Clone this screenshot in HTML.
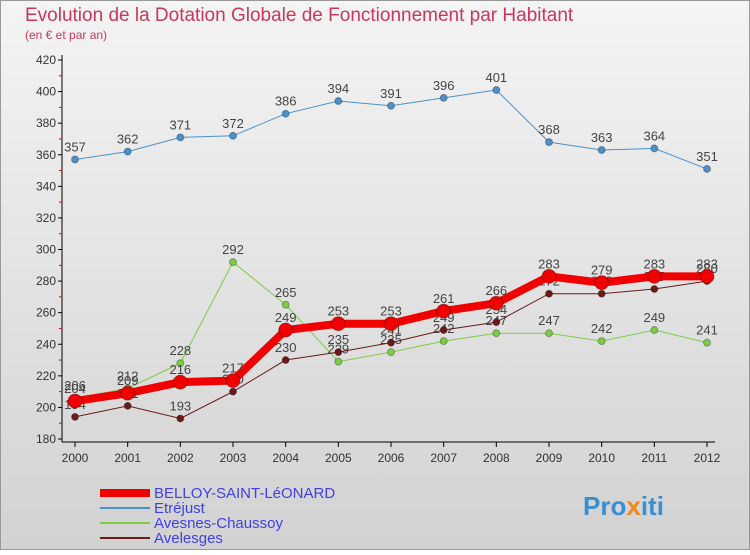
<!DOCTYPE html>
<html><head><meta charset="utf-8"><style>
body{margin:0;width:750px;height:550px;overflow:hidden;font-family:"Liberation Sans",sans-serif;}
</style></head><body>
<svg width="750" height="550" xmlns="http://www.w3.org/2000/svg">
<defs><linearGradient id="bg" x1="0" y1="0" x2="0" y2="1"><stop offset="0" stop-color="#f4f4f4"/><stop offset="1" stop-color="#d2d2d2"/></linearGradient></defs>
<rect x="0.5" y="0.5" width="749" height="549" fill="url(#bg)" stroke="#999"/>
<text x="25" y="21" font-size="19" fill="#c8385a">Evolution de la Dotation Globale de Fonctionnement par Habitant</text>
<text x="25" y="39" font-size="12" fill="#c8385a">(en € et par an)</text>
<g id="axes"></g>
<g id="series"></g>
<g id="legend"></g>
<text x="583" y="515" font-size="26" font-weight="bold" fill="#3a8fd0">Pro<tspan fill="#f08a1c">x</tspan>iti</text>
</svg>
<script>
const years=[2000,2001,2002,2003,2004,2005,2006,2007,2008,2009,2010,2011,2012];
const yTicks=[180,200,220,240,260,280,300,320,340,360,380,400,420];
const belloy=[204,209,216,217,249,253,253,261,266,283,279,283,283];
const etrejust=[357,362,371,372,386,394,391,396,401,368,363,364,351];
const avesnes=[206,212,228,292,265,229,235,242,247,247,242,249,241];
const avelesges=[194,201,193,210,230,235,241,249,254,272,272,275,280];
const NS="http://www.w3.org/2000/svg";
const X=i=>75+i*(707-75)/12;
const Y=v=>439-(v-180)*(439-60)/240;
function mk(t,a,p){const e=document.createElementNS(NS,t);for(const k in a)e.setAttribute(k,a[k]);(p||document.querySelector('svg')).appendChild(e);return e;}
const ax=document.getElementById('axes');
let e=mk('line',{x1:62,y1:55,x2:62,y2:442,stroke:'#000'},ax);

e=mk('line',{x1:62,y1:442,x2:715,y2:442,stroke:'#000'},ax);

yTicks.forEach((v,i)=>{
 mk('line',{x1:58,y1:Y(v),x2:62,y2:Y(v),stroke:'#000'},ax);
 if(i<yTicks.length-1)mk('line',{x1:59,y1:Y(v+10),x2:62,y2:Y(v+10),stroke:'#e00'},ax);
 const t=mk('text',{x:56,y:Y(v)+4,'font-size':12,'text-anchor':'end',fill:'#333'},ax);t.textContent=v;
 
});
years.forEach((y,i)=>{
 mk('line',{x1:X(i),y1:442,x2:X(i),y2:447,stroke:'#000'},ax);
 const t=mk('text',{x:X(i),y:462,'font-size':12,'text-anchor':'middle',fill:'#333'},ax);t.textContent=y;
 
});
const sg=document.getElementById('series');
function series(d,col,w,r,name){
 const g=mk('g',{},sg);
 mk('polyline',{points:d.map((v,i)=>X(i)+','+Y(v)).join(' '),fill:'none',stroke:col,'stroke-width':w},g);
 d.forEach((v,i)=>{const c=mk('circle',{cx:X(i),cy:Y(v),r:r,fill:col,stroke:'rgba(0,0,0,0.3)'},g);
  
  const t=mk('text',{x:X(i),y:Y(v)-8,'font-size':13,'text-anchor':'middle',fill:'#444'},g);t.textContent=v;
  });
}
series(etrejust,'#4b92cc',1,3.5,'etrejust');
series(avesnes,'#7ccc44',1,3.5,'avesnes');
series(avelesges,'#6b1a1a',1,3.5,'avelesges');
series(belloy,'#f00000',8,7,'belloy');
const lg=document.getElementById('legend');
const ents=[['BELLOY-SAINT-LéONARD','#f00000',8],['Etréjust','#4b92cc',2],['Avesnes-Chaussoy','#7ccc44',2],['Avelesges','#6b1a1a',2]];
ents.forEach((en,i)=>{const y=493+i*15;
 const g=mk('g',{},lg);
 mk('line',{x1:100,y1:y,x2:150,y2:y,stroke:en[1],'stroke-width':en[2]},g);
 const t=mk('text',{x:154,y:y+5,'font-size':15,fill:'#4040e8'},g);t.textContent=en[0];});
</script>
</body></html>
